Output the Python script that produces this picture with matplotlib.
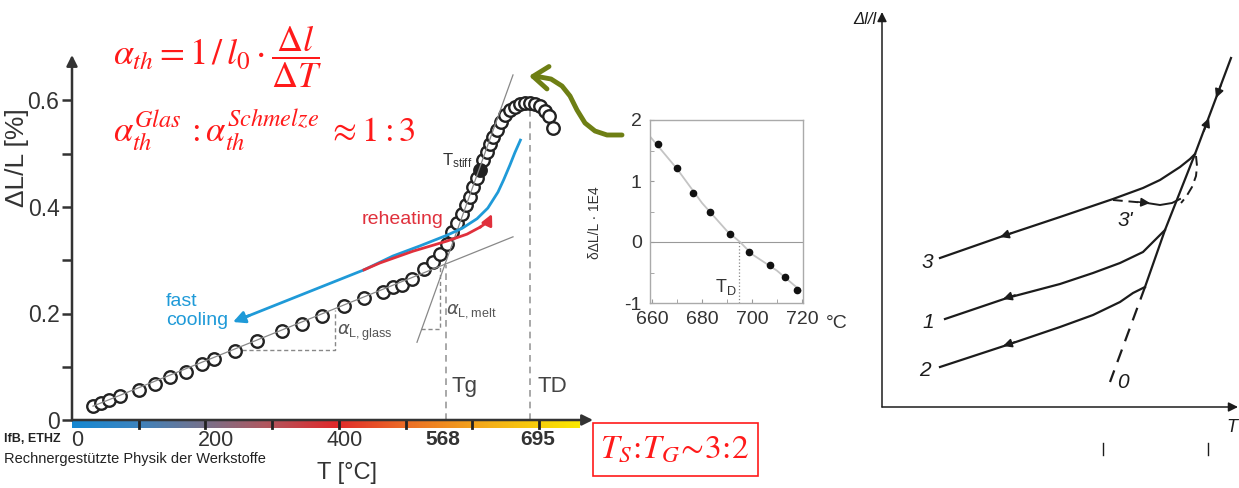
import numpy as np
import matplotlib
matplotlib.use('Agg')
import matplotlib.pyplot as plt
import matplotlib.transforms as mtransforms
from matplotlib.colors import LinearSegmentedColormap
from matplotlib.patches import Rectangle

plt.rcParams['font.family'] = ['Liberation Sans', 'DejaVu Sans']
plt.rcParams['axes.unicode_minus'] = False

W, H = 1239, 488

# ---------------- main chart data (T in degC, dL/L in %) ----------------
T_meas = [31.9, 44.0, 56.1, 72.8, 101.7, 126.0, 148.7, 173.0, 197.3, 215.5,
          247.3, 280.7, 318.7, 349.0, 379.4, 412.7, 443.1, 471.9, 487.1, 500.8,
          515.9, 534.1, 547.8, 558.4, 569.0, 576.6, 584.2, 591.8, 597.9, 603.9,
          608.5, 614.6, 623.7, 629.7, 634.3, 638.8, 644.9, 651.0, 657.1, 664.6,
          672.2, 679.8, 687.4, 695.0, 702.6, 710.2, 717.8, 723.8, 729.9]
dL_meas = [0.026, 0.032, 0.038, 0.045, 0.056, 0.068, 0.081, 0.090, 0.105, 0.115,
           0.130, 0.148, 0.167, 0.180, 0.195, 0.214, 0.229, 0.240, 0.250, 0.254,
           0.265, 0.284, 0.297, 0.312, 0.331, 0.353, 0.370, 0.387, 0.404, 0.419,
           0.438, 0.454, 0.488, 0.503, 0.518, 0.531, 0.545, 0.560, 0.573, 0.582,
           0.588, 0.593, 0.595, 0.595, 0.593, 0.590, 0.580, 0.571, 0.548]
T_stiff = [619.1]
dL_stiff = [0.469]
T_g = 568
T_D = 695
glass_T = [31.9, 669.2]
glass_dL = [0.026, 0.344]
melt_T = [523.5, 669.2]
melt_dL = [0.146, 0.648]
glass_tri_T = [258.0, 399.0, 399.0]
glass_tri_dL = [0.131, 0.131, 0.207]
melt_tri_T = [529.6, 558.4, 558.4]
melt_tri_dL = [0.171, 0.171, 0.289]
cool_T = [681.3, 672.0, 664.6, 655.0, 646.4, 631.0, 614.6, 592.0, 569.0, 528.1,
          487.1, 443.1, 244.3]
cool_dL = [0.528, 0.502, 0.479, 0.451, 0.428, 0.398, 0.378, 0.360, 0.347, 0.327,
           0.308, 0.282, 0.184]
reheat_T = [443.1, 467.4, 517.5, 569.0, 599.4, 619.1, 637.3]
reheat_dL = [0.282, 0.295, 0.317, 0.336, 0.349, 0.362, 0.387]
x_ticks = [0, 200, 400, 568, 695]
x_labels = ['0', '200', '400', '568', '695']
y_ticks = [0, 0.2, 0.4, 0.6]
y_labels = ['0', '0.2', '0.4', '0.6']
y_minor = [0.1, 0.3, 0.5]

# ---------------- inset data ----------------
ins_T = [662.5, 669.9, 676.3, 683.2, 691.2, 698.9, 707.2, 713.2, 717.9]
ins_d = [1.60, 1.21, 0.81, 0.49, 0.13, -0.17, -0.38, -0.57, -0.79]
fit_T = [659.2, 670, 680, 690, 695.2, 700, 710, 719.5]
fit_d = [1.73, 1.20, 0.64, 0.18, 0.0, -0.20, -0.47, -0.80]
ins_xticks = [660, 680, 700, 720]
ins_yticks = [-1, 0, 1, 2]

# ---------------- schematic (right) in pixel coordinates ----------------
liquid_x = [1231, 1195, 1165, 1145]
liquid_y = [58, 154, 230, 287]
liquid_dash_x = [1145, 1110]
liquid_dash_y = [287, 382]
c3_x = [1195, 1190, 1180, 1160, 1143, 1113, 1060, 1003, 940]
c3_y = [154, 159, 167, 180, 188, 199, 217, 236, 258]
c1_x = [1165, 1153, 1143, 1120, 1093, 1060, 1007, 945]
c1_y = [230, 242, 252, 263, 273, 284, 298, 319]
c2_x = [1145, 1133, 1120, 1093, 1060, 1007, 940]
c2_y = [287, 293, 302, 315, 327, 345, 367]
c3p_dash_x = [1113, 1147]
c3p_dash_y = [200, 203]
c3p_x = [1147, 1160, 1172, 1180]
c3p_y = [203, 205, 203, 199]
c3p_side_x = [1196, 1197, 1196, 1192, 1186, 1181]
c3p_side_y = [156, 166, 176, 187, 197, 203]

# green hint arrow (pixel coordinates)
green_x = [622, 607, 595, 585, 577, 570, 562, 551, 540]
green_y = [135, 135, 131, 123, 110, 96, 86, 79, 77]

fig = plt.figure(figsize=(W / 100, H / 100), dpi=100)

# ================= main chart =================
px_per_T = 0.659
px_per_dL = 532.5
ax = fig.add_axes([72 / W, (H - 420) / H, (593 - 72) / W, (420 - 55) / H])
xmax = (593 - 72) / px_per_T
ymax = (420 - 55) / px_per_dL

cmap = LinearSegmentedColormap.from_list('tc', [
    (0.0, '#1688d2'), (0.12, '#3a84c0'), (0.25, '#72738f'), (0.38, '#b05860'),
    (0.52, '#e0282a'), (0.66, '#ec6e26'), (0.82, '#f4ae1a'), (1.0, '#fbe900')])
grad = np.linspace(0, 1, 256)[None, :]
cb_h = 8 / px_per_dL
ax.imshow(grad, extent=(0, (580 - 72) / px_per_T, -cb_h, 0), aspect='auto',
          cmap=cmap, clip_on=False, zorder=0)
for k in range(1, 8):
    xs = k * 66.7 / px_per_T
    ax.plot([xs, xs], [-cb_h, 0], color='#222', lw=2, clip_on=False, zorder=1)

ax.set_xlim(0, xmax)
ax.set_ylim(0, ymax)
for s in ax.spines.values():
    s.set_visible(False)
ax.annotate('', xy=(0, 1), xytext=(0, 0), xycoords='axes fraction',
            arrowprops=dict(arrowstyle='-|>', lw=1.8, color='#333',
                            mutation_scale=16, shrinkA=0, shrinkB=0))
ax.annotate('', xy=(1, 0), xytext=(0, 0), xycoords='axes fraction',
            arrowprops=dict(arrowstyle='-|>', lw=1.8, color='#333',
                            mutation_scale=16, shrinkA=0, shrinkB=0))

ax.set_yticks(y_ticks, y_labels)
ax.set_yticks(y_minor, minor=True)
ax.tick_params(axis='y', which='both', direction='out', length=7, width=1.8,
               color='#333', labelsize=16.5, pad=2, labelcolor='#333')
ax.set_xticks(x_ticks, x_labels)
ax.tick_params(axis='x', length=0, pad=7, labelsize=15.5, labelcolor='#333')
label_shift_px = {'0': 5, '200': 12, '400': 9, '568': -3, '695': 8}
for lab in ax.get_xticklabels():
    txt = lab.get_text()
    if txt in ('568', '695'):
        lab.set_fontweight('bold')
        lab.set_fontsize(15)
    lab.set_transform(lab.get_transform() + mtransforms.ScaledTranslation(
        label_shift_px[txt] / 100, 0, fig.dpi_scale_trans))

# guide lines
ax.plot([T_g, T_g], [0, 0.291], ls=(0, (4, 3)), color='#999', lw=1.2, zorder=2)
ax.plot([T_D, T_D], [0, 0.595], ls=(0, (4, 3)), color='#999', lw=1.2, zorder=2)
ax.plot(glass_tri_T, glass_tri_dL, ls=(0, (3, 2)), color='#888', lw=1.0, zorder=2)
ax.plot(melt_tri_T, melt_tri_dL, ls=(0, (3, 2)), color='#888', lw=1.0, zorder=2)

ax.plot(T_meas, dL_meas, 'o', mfc='white', mec='#222', ms=9, mew=1.7, zorder=3)
ax.plot(T_stiff, dL_stiff, 'o', mfc='#222', mec='#222', ms=9, mew=1.7, zorder=3)

ax.plot(glass_T, glass_dL, color='#888', lw=0.9, zorder=4)
ax.plot(melt_T, melt_dL, color='#888', lw=0.9, zorder=4)

blue = '#1f9ad8'
red = '#e0303c'
ax.plot(cool_T[:-1] + [cool_T[-1] + 15], cool_dL[:-1] + [cool_dL[-1] + 15 * 0.000493],
        color=blue, lw=2, zorder=5, solid_capstyle='butt')
ax.annotate('', xy=(cool_T[-1], cool_dL[-1]),
            xytext=(cool_T[-1] + 25, cool_dL[-1] + 25 * 0.000493),
            arrowprops=dict(arrowstyle='-|>', color=blue, lw=2, mutation_scale=18,
                            shrinkA=0, shrinkB=0), zorder=5)
ax.plot(reheat_T[:-1], reheat_dL[:-1], color=red, lw=2, zorder=6)
ax.annotate('', xy=(reheat_T[-1], reheat_dL[-1]), xytext=(reheat_T[-2], reheat_dL[-2]),
            arrowprops=dict(arrowstyle='-|>', color=red, lw=2, mutation_scale=16,
                            shrinkA=0, shrinkB=0,
                            connectionstyle='arc3,rad=0.15'), zorder=6)

# ================= inset =================
ax2 = fig.add_axes([650 / W, (H - 303) / H, 153 / W, 183 / H])
ax2.set_xlim(659.2, 720.4)
ax2.set_ylim(-1, 2)
for s in ax2.spines.values():
    s.set_color('#aaa')
    s.set_linewidth(1)
ax2.set_xticks(ins_xticks)
ax2.set_xticks([670, 690, 710], minor=True)
ax2.set_yticks(ins_yticks)
ax2.set_yticks([-0.5, 0.5, 1.5], minor=True)
ax2.tick_params(which='both', direction='in', length=3, color='#999',
                labelsize=14, labelcolor='#333')
ax2.tick_params(axis='x', pad=6)
ax2.tick_params(axis='y', pad=6)
ax2.axhline(0, color='#999', lw=0.8)
ax2.plot(fit_T, fit_d, color='#c4c4c4', lw=1.3, zorder=2)
ax2.plot([T_D, T_D], [-1, 0], ls=':', color='#888', lw=0.9)
ax2.plot(ins_T, ins_d, 'o', color='#111', ms=4.5, zorder=3)
ax2.text(694, -0.74, r'$\mathregular{T_D}$', ha='right', va='center',
         fontsize=13, color='#333')

# ================= overlay (pixel coordinates) =================
ov = fig.add_axes([0, 0, 1, 1])
ov.set_xlim(0, W)
ov.set_ylim(H, 0)
ov.axis('off')

red_f = '#ff1a1a'
ov.text(113, 57, r'$\alpha_{th} = 1\,/\,l_0\cdot\dfrac{\Delta l}{\Delta T}$',
        color=red_f, fontsize=26, math_fontfamily='stix', ha='left', va='center')
ov.text(113, 141, r'$\alpha_{th}^{Glas}\,:\alpha_{th}^{Schmelze}\ \approx 1:3$',
        color=red_f, fontsize=25, math_fontfamily='stix', ha='left', va='baseline')

ov.text(17, 158, 'ΔL/L [%]', rotation=90, ha='center', va='center',
        fontsize=19, color='#333')
ov.text(347, 473, 'T [°C]', ha='center', va='center', fontsize=17, color='#333')
ov.text(4, 439, 'IfB, ETHZ', ha='left', va='center', fontsize=9,
        fontweight='bold', color='#222')
ov.text(4, 459, 'Rechnergestützte Physik der Werkstoffe', ha='left', va='center',
        fontsize=10.5, color='#222')

ov.text(403, 220, 'reheating', ha='center', va='center', fontsize=14, color=red)
ov.text(166, 311, 'fast\ncooling', ha='left', va='center', fontsize=14,
        color=blue, linespacing=1.15)
ov.text(337, 335, r'$\alpha_{\mathregular{L,glass}}$', ha='left', va='baseline',
        fontsize=13, color='#555', math_fontfamily='dejavusans')
ov.text(446, 314, r'$\alpha_{\mathregular{L,melt}}$', ha='left', va='baseline',
        fontsize=13, color='#555', math_fontfamily='dejavusans')
ov.text(442, 165, r'$\mathregular{T_{stiff}}$', ha='left', va='baseline',
        fontsize=12, color='#333')
ov.text(452, 392, 'Tg', ha='left', va='baseline', fontsize=16, color='#444')
ov.text(538, 392, 'TD', ha='left', va='baseline', fontsize=16, color='#444')

ov.text(595, 223, 'δΔL/L · 1E4', rotation=90, ha='center', va='center',
        fontsize=10, color='#333')
ov.text(826, 324, '°C', ha='left', va='center', fontsize=14, color='#333')

# ratio box
ov.add_patch(Rectangle((593, 423), 165, 53, fill=False, edgecolor=red_f, lw=1.2))
ov.text(675, 449, r'$\mathit{T_S\!:\!T_G\!\sim\!3\!:\!2}$', ha='center', va='center',
        color=red_f, fontsize=24, math_fontfamily='stix')

# green hint arrow
olive = '#6e7f14'
ov.plot(green_x, green_y, color=olive, lw=3.5, solid_capstyle='round')
ov.annotate('', xy=(529, 76), xytext=(green_x[-1], green_y[-1]),
            arrowprops=dict(arrowstyle='->,head_length=0.6,head_width=0.45',
                            color=olive, lw=3.5, mutation_scale=18,
                            shrinkA=0, shrinkB=0))

# schematic axes
k = '#1c1c1c'
ov.annotate('', xy=(882, 12), xytext=(882, 407),
            arrowprops=dict(arrowstyle='-|>', color=k, lw=1.1, mutation_scale=14,
                            shrinkA=0, shrinkB=0))
ov.annotate('', xy=(1238, 407), xytext=(882, 407),
            arrowprops=dict(arrowstyle='-|>', color=k, lw=1.1, mutation_scale=14,
                            shrinkA=0, shrinkB=0))
ov.text(877, 20, 'Δl/l', ha='right', va='center', fontsize=12, style='italic', color=k)
ov.text(1232, 428, 'T', ha='center', va='center', fontsize=13, style='italic', color=k)
ov.plot([1103, 1103], [443, 455], color=k, lw=1)
ov.plot([1208, 1208], [443, 455], color=k, lw=1)

ov.plot(liquid_x, liquid_y, color=k, lw=1.6)
ov.plot(liquid_dash_x, liquid_dash_y, color=k, lw=1.6, ls=(0, (6, 4)))
ov.plot(c3_x, c3_y, color=k, lw=1.6)
ov.plot(c1_x, c1_y, color=k, lw=1.6)
ov.plot(c2_x, c2_y, color=k, lw=1.6)
ov.plot(c3p_dash_x, c3p_dash_y, color=k, lw=1.4, ls=(0, (5, 3)))
ov.plot(c3p_x, c3p_y, color=k, lw=1.4)
ov.plot(c3p_side_x, c3p_side_y, color=k, lw=1.4, ls=(0, (5, 3)))


def head(tail, tip):
    ov.annotate('', xy=tip, xytext=tail,
                arrowprops=dict(arrowstyle='-|>', color=k, lw=1.2,
                                mutation_scale=13, shrinkA=0, shrinkB=0))


head((1012, 233), (1000, 237))
head((1015, 295), (1003, 299))
head((1015, 342), (1003, 346))
head((1221, 85), (1216, 98))
head((1204, 131), (1209, 118))
head((1138, 202), (1150, 203))

for lab, x, y in [('3', 927, 262), ('1', 928, 322), ('2', 925, 370),
                  ('0', 1123, 382), ("3'", 1125, 220)]:
    ov.text(x, y, lab, ha='center', va='center', fontsize=15, style='italic',
            color=k)

fig.savefig('out.png', dpi=100)
